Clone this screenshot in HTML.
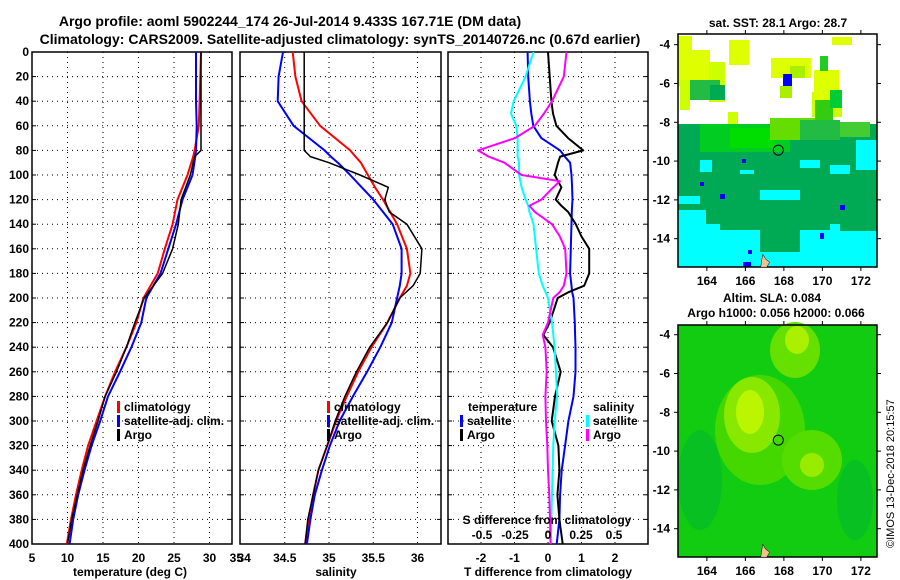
<!DOCTYPE html>
<html><head><meta charset="utf-8"><style>
body{margin:0;background:#fff}
svg{display:block;font-family:"Liberation Sans",sans-serif;font-weight:bold}
</style></head><body>
<svg id="s" width="900" height="580" viewBox="0 0 900 580" xmlns="http://www.w3.org/2000/svg">
<text x="290" y="26" font-size="14" text-anchor="middle">Argo profile: aoml 5902244_174 26-Jul-2014 9.433S 167.71E (DM data)</text>
<text x="340" y="44" font-size="14" text-anchor="middle">Climatology: CARS2009. Satellite-adjusted climatology: synTS_20140726.nc (0.67d earlier)</text>
<text x="778" y="27" font-size="12" text-anchor="middle">sat. SST: 28.1 Argo: 28.7</text>
<text x="772" y="302" font-size="12" text-anchor="middle">Altim. SLA: 0.084</text>
<text x="776" y="317" font-size="12" text-anchor="middle">Argo h1000: 0.056 h2000: 0.066</text>
<text transform="translate(894,548) rotate(-90)" font-size="11" font-weight="normal">©IMOS 13-Dec-2018 20:15:57</text>
<g id="g"></g>
</svg>
<script>
const tempDepths=[0,20,40,60,80,85,100,120,140,160,180,200,220,240,260,280,300,320,340,360,380,400];
const tempArgo=[28.8,28.8,28.8,28.8,28.8,27.9,27.3,26.0,25.6,24.8,23.4,20.8,19.5,18.3,16.9,15.3,14.3,13.2,12.2,11.4,10.6,10.0];
const tempClim=[28.8,28.7,28.6,28.5,27.9,27.7,26.9,25.5,24.8,23.7,22.7,20.7,19.7,18.3,16.7,15.3,14.1,12.9,12.0,11.2,10.5,9.9];
const tempSat=[28.1,28.1,28.1,28.2,28.1,28.0,27.6,26.2,25.3,24.2,23.1,21.1,20.4,19.0,17.4,15.7,14.6,13.4,12.4,11.5,10.8,10.3];
const salDepths=[0,20,40,60,80,85,90,100,110,120,130,140,160,180,190,200,220,240,260,280,300,320,340,360,380,400];
const salArgo=[34.72,34.72,34.72,34.72,34.72,34.79,35.0,35.35,35.67,35.63,35.68,35.88,36.05,36.03,35.95,35.8,35.66,35.46,35.31,35.18,35.07,34.98,34.88,34.82,34.76,34.73];
const salClim=[34.59,34.62,34.69,34.9,35.24,35.3,35.36,35.44,35.52,35.61,35.69,35.77,35.88,35.92,35.88,35.8,35.66,35.48,35.33,35.2,35.08,34.98,34.88,34.82,34.77,34.73];
const salSat=[34.48,34.43,34.42,34.6,34.95,35.02,35.1,35.24,35.37,35.5,35.61,35.72,35.82,35.82,35.8,35.77,35.71,35.58,35.43,35.27,35.12,35.01,34.92,34.84,34.79,34.75];
const diffDepths=[0,20,40,50,60,70,80,85,90,100,105,110,120,125,130,140,150,160,180,190,195,200,220,230,240,260,280,300,320,340,360,380,400];
const dTsat=[-0.61,-0.59,-0.54,-0.5,-0.44,-0.2,0.36,0.5,0.66,0.7,0.71,0.72,0.73,0.72,0.71,0.7,0.69,0.68,0.66,0.7,0.72,0.76,0.8,0.81,0.82,0.82,0.76,0.61,0.51,0.41,0.36,0.34,0.26];
const dTargo=[0,0.05,0.1,0.15,0.25,0.6,1.05,0.36,0.3,0.2,0.3,0.4,0.23,0.4,0.6,0.83,1.0,1.23,1.23,1.08,0.63,0.29,0.05,-0.14,0.15,0.38,0.21,0.11,0.31,0.34,0.28,0.34,0.44];
const dSsat=[-0.11,-0.17,-0.26,-0.28,-0.24,-0.23,-0.23,-0.23,-0.22,-0.22,-0.21,-0.2,-0.17,-0.15,-0.14,-0.11,-0.1,-0.09,-0.07,-0.04,-0.02,0.0,0.03,0.04,0.05,0.06,0.07,0.05,0.04,0.035,0.03,0.025,0.02];
const dSargo=[0.14,0.12,0.03,-0.03,-0.1,-0.25,-0.53,-0.45,-0.33,-0.2,0.09,0.04,-0.05,-0.14,-0.1,0.03,0.09,0.13,0.14,0.12,0.09,0.04,0.0,-0.04,-0.02,-0.01,-0.02,-0.015,-0.005,0,0.01,0.015,0.02];
const tempTicks=[5,10,15,20,25,30,35];
const salTicks=[34,34.5,35,35.5,36];
const tdTicks=[-2,-1,0,1,2];
const sdTicks=[-0.5,-0.25,0,0.25,0.5];
const sdLabels=["-0.5","-0.25","0","0.25","0.5"];
const lonTicks=[164,166,168,170,172];
const latTicks=[-4,-6,-8,-10,-12,-14];

const NS="http://www.w3.org/2000/svg",G=document.getElementById('g');
function el(t,a,p){const e=document.createElementNS(NS,t);for(const k in a)e.setAttribute(k,a[k]);(p||G).appendChild(e);return e;}
const Y0=52,Y1=544,yD=d=>Y0+d/400*(Y1-Y0);
function panel(x0,x1,sx,grid,name){
  const g=el('g',{});
  for(let d=20;d<400;d+=20){el('line',{x1:x0,x2:x1,y1:yD(d),y2:yD(d),stroke:'#000','stroke-dasharray':'1,4','stroke-width':1},g);}
  grid.forEach(v=>{const x=sx(v);if(x>x0+2&&x<x1-2)el('line',{x1:x,x2:x,y1:Y0,y2:Y1,stroke:'#000','stroke-dasharray':'1,4','stroke-width':1},g);});
  el('rect',{x:x0,y:Y0,width:x1-x0,height:Y1-Y0,fill:'none',stroke:'#000','stroke-width':1.5},g);
  for(let d=0;d<=400;d+=20){el('line',{x1:x0,x2:x0+4,y1:yD(d),y2:yD(d),stroke:'#000'},g);el('line',{x1:x1-4,x2:x1,y1:yD(d),y2:yD(d),stroke:'#000'},g);}
  return {sx,g};
}
function line(p,ds,xs,col,w,name){
  let d='';xs.forEach((v,i)=>{d+=(i?'L':'M')+p.sx(v).toFixed(1)+','+yD(ds[i]).toFixed(1);});
  const e=el('path',{d,fill:'none',stroke:col,'stroke-width':w||2,'stroke-linejoin':'round'},p.g);
  
  
}
function txt(s,x,y,o,p){const t=el('text',Object.assign({x,y,'font-size':12},o||{}),p||G);t.textContent=s;return t;}
for(let d=0;d<=400;d+=20){const t=txt(String(d),29,yD(d)+4,{'text-anchor':'end'});}
// panel 1
const sxT=v=>32+(v-5)*7.1;
const p1=panel(32,232,sxT,tempTicks,'temperature-panel');
tempTicks.forEach((v,i)=>{const last=i===tempTicks.length-1;const t=txt(String(v),last?sxT(v)-2:sxT(v),562,{'text-anchor':last?'end':'middle'});});
txt('temperature (deg C)',130,576,{'text-anchor':'middle'});
line(p1,tempDepths,tempClim,'#f00',2,'temp-climatology-line');line(p1,tempDepths,tempSat,'#00f',2,'temp-satellite-line');line(p1,tempDepths,tempArgo,'#000',1.5,'temp-argo-line');
// panel 2
const sxS=v=>240.5+(v-34)*88.5;
const p2=panel(240,441,sxS,salTicks,'salinity-panel');
salTicks.forEach((v,i)=>{const t=txt(String(v),i===0?sxS(v)-3:sxS(v),562,{'text-anchor':i===0?'start':'middle'});});
txt('salinity',336,576,{'text-anchor':'middle'});
line(p2,salDepths,salClim,'#f00',2,'sal-climatology-line');line(p2,salDepths,salSat,'#00f',2,'sal-satellite-line');line(p2,salDepths,salArgo,'#000',1.5,'sal-argo-line');
function legend(x,y,items){items.forEach((it,i)=>{el('rect',{x:x,y:y+i*14-10,width:3,height:12,fill:it[1]});txt(it[0],x+7,y+i*14);});}
legend(117,411,[['climatology','#f00'],['satellite-adj. clim.','#00f'],['Argo','#000']]);
legend(327,411,[['climatology','#f00'],['satellite-adj. clim.','#00f'],['Argo','#000']]);
// panel 3
const sxD=v=>548+v*33.5;
const p3=panel(448,648,sxD,tdTicks,'difference-panel');
const p3s={sx:v=>548+v*132,g:p3.g};
tdTicks.forEach(v=>{const t=txt(String(v),sxD(v),562,{'text-anchor':'middle'});});
sdTicks.forEach((v,i)=>{const t=txt(sdLabels[i],p3s.sx(v),539,{'text-anchor':'middle'});});
txt('S difference from climatology',547,524,{'text-anchor':'middle'});
txt('T difference from climatology',548,576,{'text-anchor':'middle'});
line(p3,diffDepths,dTsat,'#00f',2,'tdiff-satellite-line');line(p3,diffDepths,dTargo,'#000',2,'tdiff-argo-line');
line(p3s,diffDepths,dSsat,'#00ffff',2,'sdiff-satellite-line');line(p3s,diffDepths,dSargo,'#f0f',2,'sdiff-argo-line');
txt('temperature',468,411);txt('salinity',593,411);
legend(460,425,[['satellite','#00f'],['Argo','#000']]);
legend(586,425,[['satellite','#00ffff'],['Argo','#f0f']]);
// maps
function mapFrame(y0,y1,name,lat0){
  const g=el('g',{});
  const lx=v=>678+(v-162.5)*19.25, ly=v=>y0+(lat0-v)*19.4;
  return {g,lx,ly,y0,y1};
}
function frameAxes(m){
  el('rect',{x:678,y:m.y0,width:199,height:m.y1-m.y0,fill:'none',stroke:'#000','stroke-width':1.5},m.g);
  lonTicks.forEach(v=>{el('line',{x1:m.lx(v),x2:m.lx(v),y1:m.y0,y2:m.y0-4,stroke:'#000'},m.g);el('line',{x1:m.lx(v),x2:m.lx(v),y1:m.y1,y2:m.y1+4,stroke:'#000'},m.g);txt(String(v),m.lx(v),m.y1+18,{'text-anchor':'middle'},m.g);});
  latTicks.forEach(v=>{el('line',{x1:674,x2:678,y1:m.ly(v),y2:m.ly(v),stroke:'#000'},m.g);el('line',{x1:877,x2:881,y1:m.ly(v),y2:m.ly(v),stroke:'#000'},m.g);txt(String(v),670,m.ly(v)+4,{'text-anchor':'end'},m.g);});
  el('circle',{cx:m.lx(167.71),cy:m.ly(-9.433),r:5,fill:'none',stroke:'#000'},m.g);
  el('path',{d:`M${m.lx(166.9)},${m.ly(-14.8)} l3,5 l4,3 l-3,5 l-6,0z`,fill:'#f4c090',stroke:'#000','stroke-width':0.5},m.g);
}
const m1=mapFrame(34,267,'sst-map',-3.45);
el('rect',{x:678,y:34,width:199,height:233,fill:'#fff'},m1.g);
const blocks=[[678,36,14,50,'#ddff00'],[690,50,20,40,'#ddff00'],[709,62,16,40,'#ccff00'],[680,80,10,30,'#ccff00'],[729,40,20,25,'#ddff00'],[690,80,30,20,'#22bb44'],[710,85,15,15,'#00aa55'],[728,112,10,15,'#ccff00'],
[771,58,40,20,'#ddff00'],[790,66,15,12,'#aaee00'],[783,74,9,13,'#0000ff'],[780,86,12,12,'#aaee00'],[812,92,30,25,'#ccff00'],[814,70,25,30,'#ddff00'],[815,100,18,28,'#33cc11'],[830,90,12,18,'#00cc33'],[832,37,20,8,'#ddff00'],[820,56,8,15,'#22cc22'],
[678,124,199,50,'#00aa55'],[700,124,90,28,'#00cc22'],[730,128,45,20,'#00dd00'],[770,118,45,22,'#66dd00'],[800,120,40,20,'#22bb44'],[840,122,30,15,'#44cc33'],
[856,140,21,30,'#00ffff'],[700,160,12,12,'#00ffff'],[740,170,14,6,'#00ffff'],[800,160,20,8,'#00ffff'],[830,165,20,10,'#00ffff'],
[678,174,199,30,'#00aa55'],[678,196,22,18,'#00ffff'],[760,190,40,10,'#00ffff'],[678,204,199,20,'#00aa55'],[678,210,28,57,'#00ffff'],[678,224,199,43,'#00ffff'],[720,216,110,14,'#00aa55'],[760,230,40,22,'#00aa55'],[840,215,37,16,'#00aa55'],
[700,182,4,4,'#0000ff'],[720,194,5,5,'#0000ff'],[742,159,4,4,'#0000ff'],[840,205,5,5,'#0000ff'],[748,250,4,4,'#0000ff'],[820,233,4,6,'#0000ff'],[743,262,8,5,'#0000ff']];
blocks.forEach(b=>el('rect',{x:b[0],y:b[1],width:b[2],height:b[3],fill:b[4]},m1.g));
frameAxes(m1);
const m2=mapFrame(325,557,'sla-map',-3.5);
el('rect',{x:678,y:325,width:199,height:232,fill:'#11cc11'},m2.g);
const blobs=[[700,480,22,50,'#08c022'],[855,500,18,40,'#08c022'],[760,430,45,55,'#44d800'],[795,350,25,28,'#66e000'],[812,460,30,30,'#55dc00'],[752,415,28,38,'#88e800'],[750,412,14,22,'#bbf500'],[797,340,12,14,'#aaf000'],[812,465,12,12,'#99ec00']];
blobs.forEach(b=>el('ellipse',{cx:b[0],cy:b[1],rx:b[2],ry:b[3],fill:b[4]},m2.g));
frameAxes(m2);
</script>
</body></html>
